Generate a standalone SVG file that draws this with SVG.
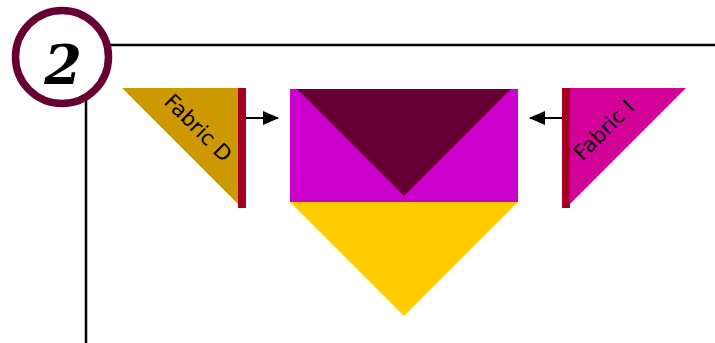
<svg xmlns="http://www.w3.org/2000/svg" width="715" height="343" viewBox="0 0 715 343">
<style>
.line{stroke:#000;stroke-width:2.5;fill:none}
.bar{fill:#A50021}
.lbl{font-family:"DejaVu Sans",sans-serif;font-size:21px;fill:#000}
.conn{stroke:#000;stroke-width:2;fill:none}
</style>
<defs>
<marker id="ah" markerWidth="16" markerHeight="14" refX="15" refY="7" orient="auto" markerUnits="userSpaceOnUse">
<path d="M0,0 L16,7 L0,14 Z" fill="#000"/>
</marker>
</defs>
<rect width="715" height="343" fill="#fff"/>
<g id="frame">
<line class="line" x1="110" y1="45" x2="715" y2="45"/>
<line class="line" x1="86" y1="100" x2="86" y2="343"/>
</g>
<g id="step">
<circle cx="62" cy="57" r="46.5" fill="#fff" stroke="#660033" stroke-width="7.5"/>
<text x="63" y="84" text-anchor="middle" font-family="'DejaVu Serif',serif" font-style="italic" font-weight="bold" font-size="54">2</text>
</g>
<g id="fabricD">
<polygon points="122,88 238,88 238,204" fill="#CC9900"/>
<rect class="bar" x="238" y="88" width="8" height="120"/>
<text class="lbl" transform="translate(198,128) rotate(45)" text-anchor="middle" dy="7">Fabric D</text>
</g>
<g id="block">
<rect x="290" y="89" width="228" height="113" fill="#CC00CC"/>
<polygon points="297,89 511,89 404,196" fill="#660033"/>
<polygon points="290,202 518,202 404,316" fill="#FFCC00"/>
</g>
<g id="fabricI">
<polygon points="570,88 686,88 570,204" fill="#D4009A"/>
<rect class="bar" x="562" y="88" width="8" height="120"/>
<text class="lbl" transform="translate(604,130) rotate(-45)" text-anchor="middle" dy="7">Fabric I</text>
</g>
<g id="connectors">
<line class="conn" x1="246" y1="118" x2="278" y2="118" marker-end="url(#ah)"/>
<line class="conn" x1="562" y1="118" x2="530" y2="118" marker-end="url(#ah)"/>
</g>
</svg>
